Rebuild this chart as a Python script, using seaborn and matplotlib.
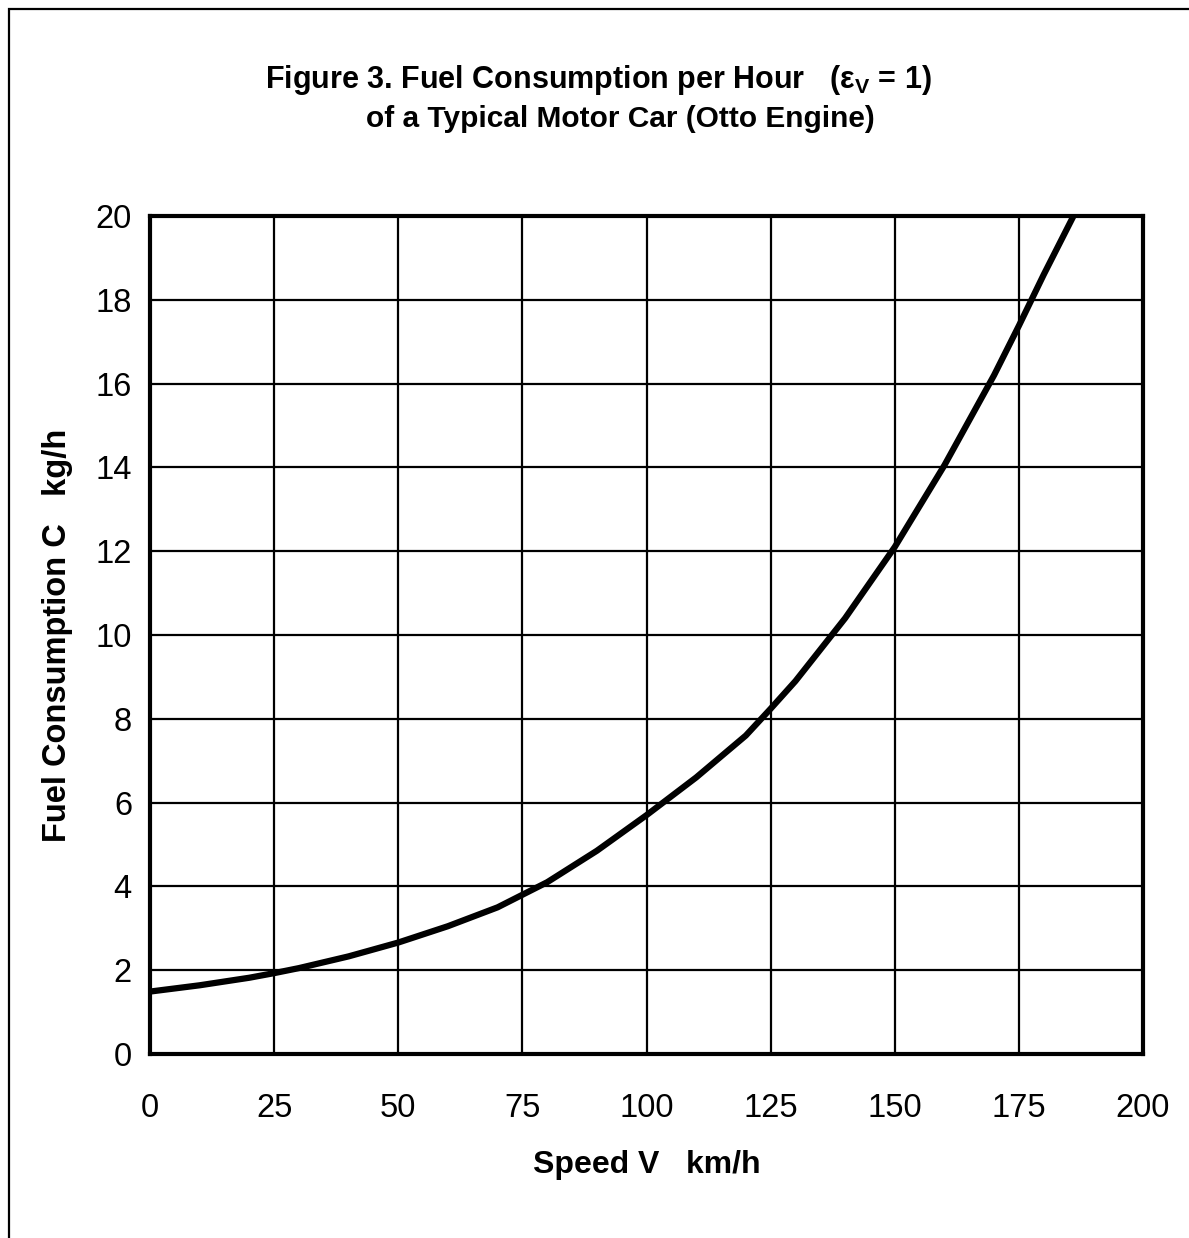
import matplotlib
matplotlib.use("Agg")
import matplotlib.pyplot as plt
import matplotlib.patches as patches
import seaborn as sns
import pandas as pd

speed = [0, 10, 20, 25, 30, 40, 50, 60, 70, 75, 80, 90, 100, 110, 120, 125,
         130, 140, 150, 160, 170, 175, 180, 186]
fuel = [1.49, 1.64, 1.82, 1.93, 2.05, 2.33, 2.66, 3.05, 3.5, 3.8, 4.1, 4.85,
        5.7, 6.6, 7.6, 8.24, 8.9, 10.4, 12.1, 14.05, 16.2, 17.38, 18.6, 20.0]
x_ticks = [0, 25, 50, 75, 100, 125, 150, 175, 200]
y_ticks = [0, 2, 4, 6, 8, 10, 12, 14, 16, 18, 20]

df = pd.DataFrame({"speed": speed, "fuel": fuel})

sns.set_theme(style="white")
plt.rcParams["font.family"] = ["Liberation Sans", "DejaVu Sans"]
plt.rcParams["text.color"] = "black"
plt.rcParams["axes.labelcolor"] = "black"
plt.rcParams["mathtext.fontset"] = "custom"
plt.rcParams["mathtext.rm"] = "Liberation Sans"
plt.rcParams["mathtext.bf"] = "Liberation Sans:bold"

W, H = 1189, 1238
fig = plt.figure(figsize=(W / 100, H / 100), dpi=100)
fig.patch.set_facecolor("white")
ax = fig.add_axes([150 / W, 1 - 1054 / H, (1143 - 150) / W, (1054 - 216) / H])

sns.lineplot(data=df, x="speed", y="fuel", ax=ax, color="black", linewidth=4.5,
             solid_joinstyle="round", solid_capstyle="butt")

ax.set_xlim(0, 200)
ax.set_ylim(0, 20)
ax.set_xticks(x_ticks)
ax.set_yticks(y_ticks)
ax.set_xticklabels([str(t) for t in x_ticks])
ax.set_yticklabels([str(t) for t in y_ticks])
ax.grid(True, color="black", linewidth=1.6)
ax.set_axisbelow(True)
for s in ax.spines.values():
    s.set_visible(True)
    s.set_color("black")
    s.set_linewidth(3)
ax.tick_params(axis="both", length=0, labelsize=23.5, colors="black")
ax.tick_params(axis="x", pad=28)
ax.tick_params(axis="y", pad=13)

ax.set_xlabel("Speed V   km/h", fontsize=23, fontweight="bold", labelpad=19)
ax.set_ylabel("Fuel Consumption C   kg/h", fontsize=23.5, fontweight="bold", labelpad=16)

fig.text(598 / W, 1 - 80 / H, r"Figure 3. Fuel Consumption per Hour   (ε$_{\mathbf{V}}$ = 1)",
         ha="center", va="center", fontsize=22, fontweight="bold")
fig.text(620 / W, 1 - 119 / H, "of a Typical Motor Car (Otto Engine)",
         ha="center", va="center", fontsize=21.5, fontweight="bold")

border = patches.Rectangle((9 / W, -0.1), 1.2, 1.1 - 9 / H, transform=fig.transFigure,
                           fill=False, edgecolor="black", linewidth=1.6)
fig.patches.append(border)

fig.savefig("out.png", dpi=100, facecolor="white")
